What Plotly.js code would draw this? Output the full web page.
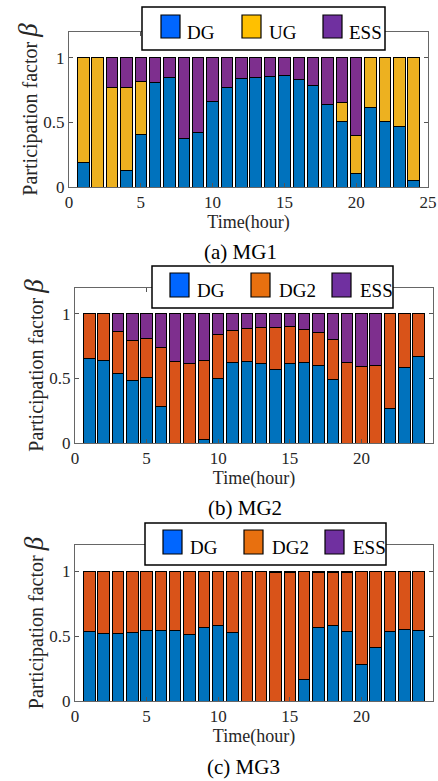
<!DOCTYPE html>
<html>
<head>
<meta charset="utf-8">
<script src="https://cdn.plot.ly/plotly-3.0.1.min.js"></script>
<style>html,body{margin:0;padding:0;background:#fff;}#chart{width:438px;height:781px;}</style>
</head>
<body>
<div id="chart"></div>
<script>
// ---- Data (participation factor beta, hours 1..24) ----
const hours = [1,2,3,4,5,6,7,8,9,10,11,12,13,14,15,16,17,18,19,20,21,22,23,24];

// MG1
const mg1_DG  = [0.19,0,0,0.124,0.407,0.812,0.845,0.374,0.423,0.665,0.773,0.84,0.85,0.856,0.861,0.833,0.789,0.637,0.508,0.103,0.619,0.505,0.469,0.052];
const mg1_UG  = [0.81,1,0.773,0.649,0.413,0,0,0,0,0,0,0,0,0,0,0,0,0,0.144,0.294,0.381,0.495,0.531,0.948];
const mg1_ESS = [0,0,0.227,0.227,0.18,0.188,0.155,0.626,0.577,0.335,0.227,0.16,0.15,0.144,0.139,0.167,0.211,0.363,0.348,0.603,0,0,0,0];

// MG2
const mg2_DG  = [0.651,0.641,0.537,0.483,0.506,0.284,0,0,0.031,0.496,0.62,0.628,0.612,0.566,0.612,0.62,0.6,0.491,0,0,0,0.271,0.581,0.667];
const mg2_DG2 = [0.349,0.359,0.323,0.308,0.305,0.452,0.628,0.612,0.61,0.344,0.253,0.261,0.279,0.331,0.292,0.261,0.253,0.307,0.623,0.594,0.602,0.729,0.419,0.333];
const mg2_ESS = [0,0,0.14,0.209,0.189,0.264,0.372,0.388,0.359,0.16,0.127,0.111,0.109,0.103,0.096,0.119,0.147,0.202,0.377,0.406,0.398,0,0,0];

// MG3
const mg3_DG  = [0.537,0.522,0.522,0.527,0.542,0.542,0.542,0.512,0.566,0.581,0.527,0,0,0,0,0.167,0.568,0.581,0.537,0.28,0.411,0.537,0.548,0.542];
const mg3_DG2 = [0.463,0.478,0.478,0.473,0.458,0.458,0.458,0.488,0.434,0.419,0.473,1,1,0.985,0.985,0.827,0.424,0.411,0.451,0.72,0.589,0.463,0.452,0.458];
const mg3_ESS = [0,0,0,0,0,0,0,0,0,0,0,0,0,0.015,0.015,0.006,0.008,0.008,0.012,0,0,0,0,0];

const xTicks = [0,5,10,15,20,25];
const yTickVals = [0,0.5,1];
const yTickText = ['0','0.5','1'];
const captions = ['(a) MG1','(b) MG2','(c) MG3'];
const legendNames = [['DG','UG','ESS'],['DG','DG2','ESS'],['DG','DG2','ESS']];

// ---- Styles ----
const C_BLUE = '#0072BD', C_ORANGE = '#D95319', C_YELLOW = '#EDB120', C_PURPLE = '#7E2F8E';
const L_BLUE = '#0066FF', L_ORANGE = '#E8700F', L_YELLOW = '#FFC000', L_PURPLE = '#7030A0';
const FONT = 'Liberation Serif, Times New Roman, serif';
const W = 438, H = 781;
const px = x => x / W;
const py = y => 1 - y / H;

function bar(y, name, color, xa, ya) {
  return {type:'bar', x: hours, y: y, name: name, xaxis: xa, yaxis: ya,
    marker:{color: color, line:{color:'#000', width:1}}, showlegend:false,
    hovertemplate: name + ': %{y}<extra></extra>'};
}

const data = [
  bar(mg1_DG, 'DG', C_BLUE, 'x', 'y'),
  bar(mg1_UG, 'UG', C_YELLOW, 'x', 'y'),
  bar(mg1_ESS, 'ESS', C_PURPLE, 'x', 'y'),
  bar(mg2_DG, 'DG', C_BLUE, 'x2', 'y2'),
  bar(mg2_DG2, 'DG2', C_ORANGE, 'x2', 'y2'),
  bar(mg2_ESS, 'ESS', C_PURPLE, 'x2', 'y2'),
  bar(mg3_DG, 'DG', C_BLUE, 'x3', 'y3'),
  bar(mg3_DG2, 'DG2', C_ORANGE, 'x3', 'y3'),
  bar(mg3_ESS, 'ESS', C_PURPLE, 'x3', 'y3')
];

// panel geometry in px: left, right, top, bottom
const panels = [
  {l:69, r:428, t:32, b:187},
  {l:75, r:433, t:288, b:443},
  {l:75, r:433, t:545, b:701}
];

function xax(p, anchor) {
  return {domain:[px(p.l), px(p.r)], anchor: anchor, range:[0,25], tickvals: xTicks,
    ticks:'inside', ticklen:4, tickcolor:'#555', showline:true, linecolor:'#666', linewidth:1,
    mirror:'ticks', showgrid:false, zeroline:false, automargin:false,
    tickfont:{family:FONT, size:17, color:'#262626'},
    title:{text:'Time(hour)', font:{family:FONT, size:18, color:'#262626'}, standoff:3}};
}
function yax(p, anchor) {
  return {domain:[py(p.b), py(p.t)], anchor: anchor, range:[0,1.2], tickvals: yTickVals, ticktext: yTickText,
    ticks:'inside', ticklen:4, tickcolor:'#555', showline:true, linecolor:'#666', linewidth:1,
    mirror:'ticks', showgrid:false, zeroline:false, automargin:false,
    tickfont:{family:FONT, size:17, color:'#262626'},
    title:{text:'Participation factor <i><span style="font-size:27px">β</span></i>', font:{family:FONT, size:20, color:'#262626'}, standoff:0}};
}

const shapes = [], annotations = [];
// legend definitions (px)
const legends = [
  {box:[142,385,7,50], sw:[161,242,323], tx:[185,267,347], sy:[15,38], ty:32, cols:[L_BLUE,L_YELLOW,L_PURPLE]},
  {box:[152,393,266,308], sw:[170,251,332], tx:[195,277,358], sy:[273,297], ty:290, cols:[L_BLUE,L_ORANGE,L_PURPLE]},
  {box:[145,386,523,565], sw:[163,244,325], tx:[188,270,351], sy:[530,554], ty:547, cols:[L_BLUE,L_ORANGE,L_PURPLE]}
];
legends.forEach((lg, i) => {
  shapes.push({type:'rect', xref:'paper', yref:'paper', x0:px(lg.box[0]), x1:px(lg.box[1]), y0:py(lg.box[3]), y1:py(lg.box[2]),
    fillcolor:'#fff', line:{color:'#000', width:1.5}, layer:'above'});
  for (let k = 0; k < 3; k++) {
    shapes.push({type:'rect', xref:'paper', yref:'paper', x0:px(lg.sw[k]), x1:px(lg.sw[k]+19), y0:py(lg.sy[1]), y1:py(lg.sy[0]),
      fillcolor:lg.cols[k], line:{color:'#000', width:1.2}, layer:'above'});
    annotations.push({xref:'paper', yref:'paper', x:px(lg.tx[k]), y:py(lg.ty), xanchor:'left', yanchor:'middle',
      text:legendNames[i][k], showarrow:false, font:{family:FONT, size:19, color:'#000'}});
  }
});
const capPos = [[240,252],[245,508],[243,767]];
captions.forEach((c, i) => {
  annotations.push({xref:'paper', yref:'paper', x:px(capPos[i][0]), y:py(capPos[i][1]), xanchor:'center', yanchor:'middle',
    text:c, showarrow:false, font:{family:FONT, size:21, color:'#000'}});
});

const layout = {
  width:W, height:H, margin:{l:0, r:0, t:0, b:0}, paper_bgcolor:'#fff', plot_bgcolor:'#fff',
  barmode:'stack', bargap:0.2, showlegend:false,
  xaxis: xax(panels[0], 'y'), yaxis: yax(panels[0], 'x'),
  xaxis2: xax(panels[1], 'y2'), yaxis2: yax(panels[1], 'x2'),
  xaxis3: xax(panels[2], 'y3'), yaxis3: yax(panels[2], 'x3'),
  shapes: shapes, annotations: annotations
};

Plotly.newPlot('chart', data, layout, {displayModeBar:false, staticPlot:true});
</script>
</body>
</html>
